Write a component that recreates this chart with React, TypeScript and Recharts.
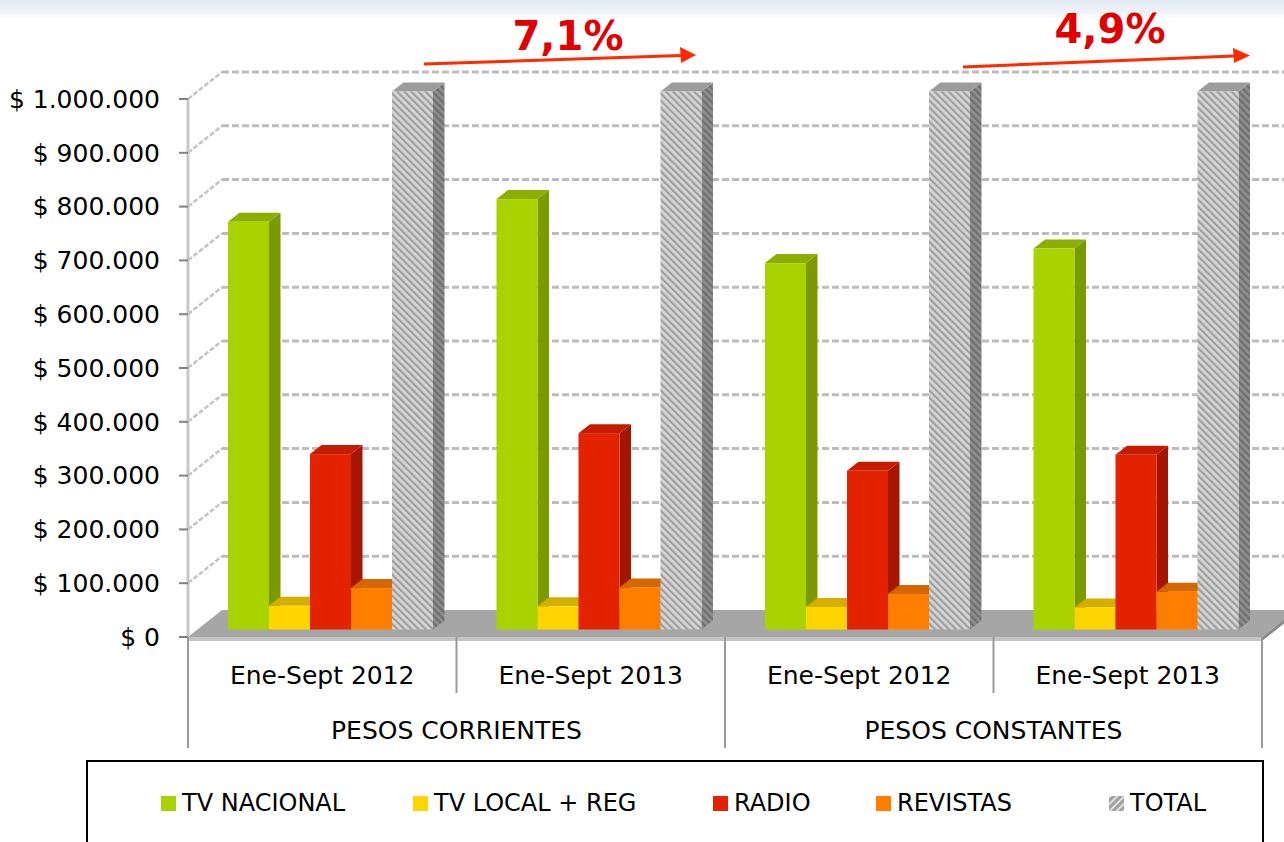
import React from 'react';
import { Bar, BarChart, CartesianGrid, XAxis, YAxis } from 'recharts';

// categories (two levels)
const periods = ['Ene-Sept 2012', 'Ene-Sept 2013', 'Ene-Sept 2012', 'Ene-Sept 2013'];
const groups = ['PESOS CORRIENTES', 'PESOS CORRIENTES', 'PESOS CONSTANTES', 'PESOS CONSTANTES'];

// series values (pesos)
const tvNacional = [758000, 800000, 681000, 708000];
const tvLocalReg = [44000, 43000, 42000, 41000];
const radio = [326000, 365000, 295000, 325000];
const revistas = [77000, 78000, 66000, 70000];
const total = [1205000, 1291000, 1084000, 1144000];

const yTicks = [0, 100000, 200000, 300000, 400000, 500000, 600000, 700000, 800000, 900000, 1000000];
const Y_MAX = 1000000;
const growthLabels = ['7,1%', '4,9%'];

const FONT = '"DejaVu Sans", Verdana, sans-serif';

// depth of the 3d box and of each bar
const WALL_DX = 34;
const WALL_DY = -27;
const BAR_DX = 9;
const BAR_DY = -7.5;
const SIDE_DX = 11.5;
const SIDE_DY = -9;

// legend item left edges inside the page
const legendLeft = [161, 413, 713, 876, 1109];

const series = [
  { key: 'tvNacional', name: 'TV NACIONAL', front: '#a9d300', side: '#7a9b00', top: '#8cae00' },
  { key: 'tvLocalReg', name: 'TV LOCAL + REG', front: '#ffd500', side: '#c9a800', top: '#d4af00' },
  { key: 'radio', name: 'RADIO', front: '#e32200', side: '#a41600', top: '#c41c00' },
  { key: 'revistas', name: 'REVISTAS', front: '#ff7e00', side: '#c46000', top: '#d56700' },
  { key: 'total', name: 'TOTAL', front: 'url(#hatchFront)', side: 'url(#hatchSide)', top: '#9c9c9c' },
];

// excel clips the total columns at the axis maximum
const data = periods.map((p, i) => ({
  period: p,
  group: groups[i],
  tvNacional: tvNacional[i],
  tvLocalReg: tvLocalReg[i],
  radio: radio[i],
  revistas: revistas[i],
  total: Math.min(total[i], Y_MAX),
}));

function fmtPesos(v: number) {
  return '$ ' + String(v).replace(/\B(?=(\d{3})+(?!\d))/g, '.');
}

function make3dShape(front: string, side: string, top: string) {
  return (props: any) => {
    const { x, y, width, height } = props;
    if (!height || height <= 0) return <g />;
    const fx = x + BAR_DX;
    const fy = y + BAR_DY;
    const r = fx + width;
    return (
      <g>
        <polygon
          points={`${r},${fy} ${r + SIDE_DX},${fy + SIDE_DY} ${r + SIDE_DX},${fy + height + SIDE_DY} ${r},${fy + height}`}
          fill={side}
        />
        <polygon
          points={`${fx},${fy} ${fx + SIDE_DX},${fy + SIDE_DY} ${r + SIDE_DX},${fy + SIDE_DY} ${r},${fy}`}
          fill={top}
        />
        <rect x={fx} y={fy} width={width} height={height} fill={front} />
      </g>
    );
  };
}

function gridLine(p: any) {
  const { x1, x2, y1, key } = p;
  const isFloor = p.height != null && p.y != null ? Math.abs(y1 - (p.y + p.height)) < 1 : p.index === 0;
  if (isFloor) {
    return (
      <g key={key}>
        <polygon
          points={`${x1},${y1} ${x2},${y1} ${x2 + WALL_DX},${y1 + WALL_DY} ${x1 + WALL_DX},${y1 + WALL_DY}`}
          fill="#a6a6a6"
        />
        <polygon
          points={`${x1},${y1} ${x2},${y1} ${x2},${y1 + 4} ${x1},${y1 + 4}`}
          fill="#c4c4c4"
        />
        <polygon
          points={`${x2},${y1} ${x2 + WALL_DX},${y1 + WALL_DY} ${x2 + WALL_DX},${y1 + WALL_DY + 4} ${x2},${y1 + 4}`}
          fill="#8a8a8a"
        />
      </g>
    );
  }
  return (
    <g key={key}>
      <line
        x1={x1}
        y1={y1}
        x2={x1 + WALL_DX}
        y2={y1 + WALL_DY}
        stroke="#c4c4c4"
        strokeWidth={2.5}
        strokeDasharray="5 2"
      />
      <line
        x1={x1 + WALL_DX}
        y1={y1 + WALL_DY}
        x2={x2 + 60}
        y2={y1 + WALL_DY}
        stroke="#bdbdbd"
        strokeWidth={3}
        strokeDasharray="7 3"
      />
    </g>
  );
}

function PeriodTick(props: any) {
  const { x, y, payload, index, width, visibleTicksCount } = props;
  const band = width && visibleTicksCount ? width / visibleTicksCount : 268.5;
  const last = index === visibleTicksCount - 1;
  return (
    <g>
      <line x1={x - band / 2} y1={y} x2={x - band / 2} y2={y + 56} stroke="#9a9a9a" strokeWidth={2} />
      {last && <line x1={x + band / 2} y1={y} x2={x + band / 2} y2={y + 56} stroke="#9a9a9a" strokeWidth={2} />}
      <text x={x} y={y + 47} textAnchor="middle" fontSize={25} fontFamily={FONT} fill="#000">
        {payload.value}
      </text>
    </g>
  );
}

function GroupTick(props: any) {
  const { x, y, payload, index, width, visibleTicksCount } = props;
  const band = width && visibleTicksCount ? width / visibleTicksCount : 268.5;
  const last = index === visibleTicksCount - 1;
  if (index % 2 === 1) {
    return (
      <g>
        {last && <line x1={x + band / 2} y1={y} x2={x + band / 2} y2={y + 55} stroke="#9a9a9a" strokeWidth={2} />}
      </g>
    );
  }
  return (
    <g>
      <line x1={x - band / 2} y1={y} x2={x - band / 2} y2={y + 55} stroke="#9a9a9a" strokeWidth={2} />
      <text x={x + band / 2} y={y + 46} textAnchor="middle" fontSize={25} fontFamily={FONT} fill="#000">
        {payload.value}
      </text>
    </g>
  );
}

function LegendBox() {
  return (
    <div
      style={{
        position: 'absolute',
        left: 86,
        top: 760,
        width: 1178,
        height: 100,
        border: '2px solid #000',
        background: '#fff',
        boxSizing: 'border-box',
        fontFamily: FONT,
        fontSize: 24,
        color: '#000',
      }}
    >
      {series.map((s, i) => (
        <div
          key={s.key}
          style={{
            position: 'absolute',
            left: legendLeft[i] - 88,
            top: 26,
            display: 'flex',
            alignItems: 'center',
            gap: 6,
            lineHeight: '30px',
            whiteSpace: 'nowrap',
          }}
        >
          <svg width={15} height={15}>
            <rect width={15} height={15} fill={s.key === 'total' ? 'url(#hatchLegend)' : s.front} />
          </svg>
          <span>{s.name}</span>
        </div>
      ))}
    </div>
  );
}

export default function App() {
  return (
    <div style={{ position: 'absolute', left: 0, top: 0, width: 1284, height: 842, overflow: 'hidden', background: '#fff' }}>
      <div
        style={{
          position: 'absolute',
          left: 0,
          top: 0,
          width: 1284,
          height: 18,
          background: 'linear-gradient(to bottom, #e2eaf3 0%, #edf3f8 70%, #ffffff 100%)',
        }}
      />
      <BarChart
        width={1284}
        height={842}
        data={data}
        margin={{ top: 99, right: 22, bottom: 94, left: 0 }}
        barCategoryGap={31}
        barGap={0}
      >
        <defs>
          <pattern id="hatchFront" width="5" height="5" patternUnits="userSpaceOnUse" patternTransform="rotate(-45)">
            <rect width="5" height="5" fill="#d6d6d6" />
            <rect width="2.2" height="5" fill="#9e9e9e" />
          </pattern>
          <pattern id="hatchSide" width="5" height="5" patternUnits="userSpaceOnUse" patternTransform="rotate(-45)">
            <rect width="5" height="5" fill="#8e8e8e" />
            <rect width="2.2" height="5" fill="#6e6e6e" />
          </pattern>
          <pattern id="hatchLegend" width="5" height="5" patternUnits="userSpaceOnUse" patternTransform="rotate(45)">
            <rect width="5" height="5" fill="#a0a0a0" />
            <rect width="2" height="5" fill="#e0e0e0" />
          </pattern>
        </defs>
        <CartesianGrid vertical={false} horizontal={gridLine} />
        <XAxis
          dataKey="period"
          axisLine={false}
          tickLine={false}
          tickSize={0}
          tickMargin={0}
          height={56}
          interval={0}
          tick={<PeriodTick />}
        />
        <XAxis
          xAxisId="grp"
          dataKey="group"
          axisLine={false}
          tickLine={false}
          tickSize={0}
          tickMargin={0}
          height={55}
          interval={0}
          tick={<GroupTick />}
        />
        <YAxis
          width={188}
          domain={[0, Y_MAX]}
          ticks={yTicks}
          interval={0}
          tickFormatter={fmtPesos}
          axisLine={{ stroke: '#c8c8c8', strokeWidth: 3 }}
          tickLine={{ stroke: '#808080', strokeWidth: 2 }}
          tickSize={9}
          tickMargin={19}
          tick={{ fill: '#000', fontSize: 25, fontFamily: FONT }}
        />
        {series.map((s) => (
          <Bar
            key={s.key}
            dataKey={s.key}
            name={s.name}
            fill={s.front}
            isAnimationActive={false}
            shape={make3dShape(s.front, s.side, s.top)}
          />
        ))}
        <g>
          <text x={568} y={50} textAnchor="middle" fontSize={40} fontWeight="bold" fontFamily={FONT} fill="#e00000">
            {growthLabels[0]}
          </text>
          <line x1={424} y1={64} x2={681} y2={55.5} stroke="#ff2a00" strokeWidth={3} />
          <polygon points="696,55 680,47 681,63" fill="#ff2a00" />
          <text x={1110} y={43} textAnchor="middle" fontSize={40} fontWeight="bold" fontFamily={FONT} fill="#e00000">
            {growthLabels[1]}
          </text>
          <line x1={963} y1={67} x2={1234} y2={56} stroke="#ff2a00" strokeWidth={3} />
          <polygon points="1250,55.5 1233,48 1234,63" fill="#ff2a00" />
        </g>
      </BarChart>
      <LegendBox />
    </div>
  );
}
